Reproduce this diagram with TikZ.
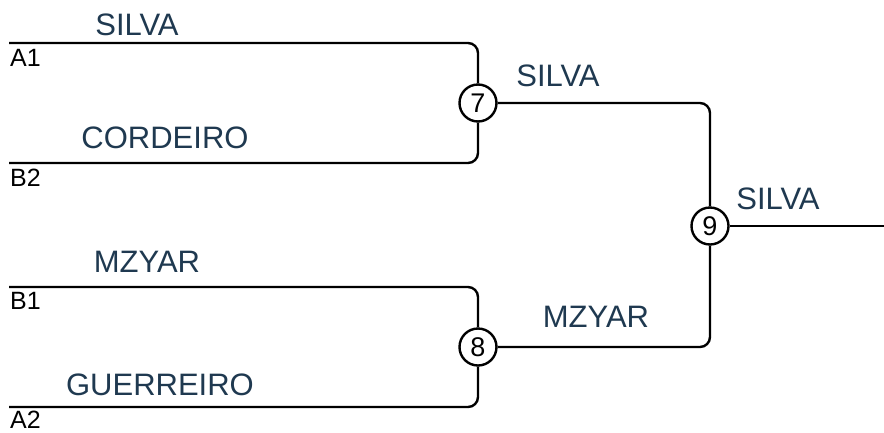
\documentclass[tikz,border=0pt]{standalone}
\usepackage{fontspec}
\setmainfont{Liberation Sans}
\definecolor{namecol}{RGB}{31,57,80}

\begin{document}
\begin{tikzpicture}[x=1pt,y=-1pt]
\tikzstyle{bline} = [line width=2.4pt,rounded corners=10pt]
\tikzstyle{match} = [circle,draw,line width=2.4pt,minimum size=37pt,inner sep=0pt,font=\fontsize{27}{30}\selectfont]
\tikzstyle{team} = [text=namecol,anchor=base,inner sep=0pt,font=\fontsize{31}{36}\selectfont]
\tikzstyle{seed} = [anchor=base west,inner sep=0pt,font=\fontsize{25}{29}\selectfont]
\useasboundingbox (0,0) rectangle (884,432);

% matches
\node[match] (m7) at (478,103) {7};
\node[match] (m8) at (478,347) {8};
\node[match] (m9) at (710,226) {9};

% line ends
\coordinate (a1) at (9,43);
\coordinate (b2) at (9,163);
\coordinate (b1) at (9,287);
\coordinate (a2) at (9,407);
\coordinate (fin) at (884,226);

\draw[bline] (a1) -| (m7);
\draw[bline] (b2) -| (m7);
\draw[bline] (b1) -| (m8);
\draw[bline] (a2) -| (m8);
\draw[bline] (m7) -| (m9);
\draw[bline] (m8) -| (m9);
\draw[bline] (m9) -- (fin);

\node[seed] (la1) at (10,66) {A1};
\node[seed] (lb2) at (10,186) {B2};
\node[seed] (lb1) at (10,309) {B1};
\node[seed] (la2) at (10,428) {A2};

\node[team] (t1) at (137,35) {SILVA};
\node[team] (t2) at (165,148) {CORDEIRO};
\node[team] (t3) at (147,272) {MZYAR};
\node[team] (t4) at (160,395) {GUERREIRO};
\node[team] (w7) at (558,86) {SILVA};
\node[team] (w8) at (596,327) {MZYAR};
\node[team] (w9) at (778,209) {SILVA};
\end{tikzpicture}
\end{document}
